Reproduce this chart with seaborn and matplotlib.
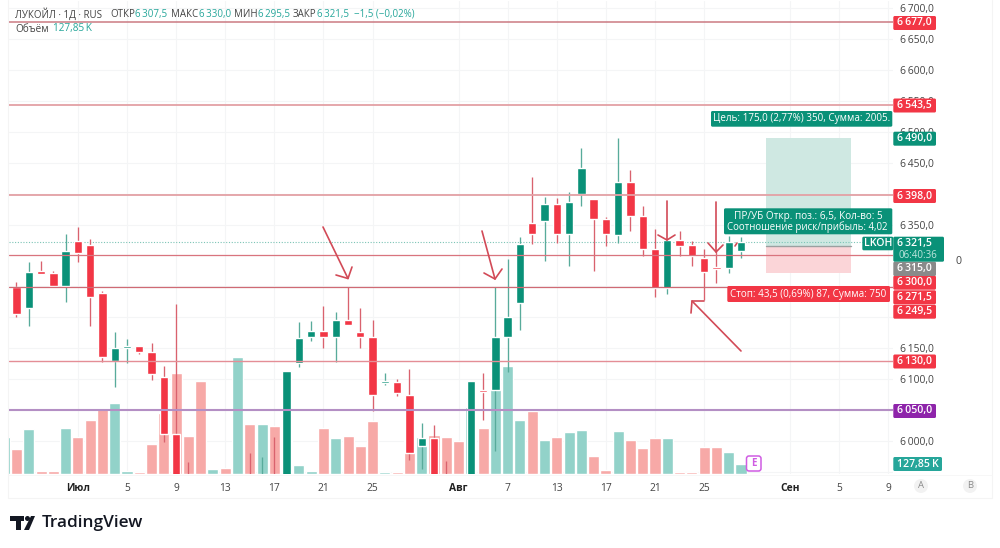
import matplotlib
matplotlib.use("Agg")
import matplotlib.pyplot as plt
import numpy as np
import pandas as pd
import seaborn as sns
from matplotlib.patches import Rectangle, Circle, Polygon, FancyBboxPatch
from matplotlib.lines import Line2D
from matplotlib.transforms import Affine2D

# ---------- data ----------
opens = [6249.5,6215,6274.5,6271,6251,6324,6316.5,6239,6129.5,6150.5,6154,6143.5,6104,6012,5940,
         5940,5930,5940,5930,5940,5930,5940,5930,6126.5,6168.5,6178,6168.5,6196,6175.5,6167.5,
         6094,6096,6075,5992,6005,5940,5930,5930,6082.5,6082.5,6167.5,6223,6353,6355,6383,
         6334.5,6400,6391,6358.5,6332.5,6418,6364,6310,6248,6325,6316.5,6296.5,6282,6279,6307.5]
highs = [6257,6289.5,6291.5,6275.5,6334.5,6346.5,6326,6242,6176.5,6164.5,6154,6158,6121.5,6221.5,5966.5,
         5944,5940,5944,5940,5980,5974.5,6007,6113.5,6193,6194,6218.5,6209,6248.5,6215,6195,
         6109.5,6100,6117,6029.5,6025.5,5968,5940,6097,6109.5,6248.5,6294,6330,6427.5,6395,6392.5,
         6402,6473,6391,6361.5,6489.5,6437.5,6380,6342,6325,6339.5,6323,6310,6308,6331.5,6330]
lows = [6200.5,6186,6270,6251,6225,6290,6186,6128,6088,6125.5,6140,6099,5999,5920,5925,
        5925,5920,5925,5920,5920,5920,5920,5920,6120,6161,6150.5,6127,6188,6150,6049,
        6090.5,6073,5969.5,5955,5920,5920,5915,5920,6034,5984.5,6112,6179.5,6318,6291,6319.5,
        6283,6380.5,6275,6315,6319.5,6340,6299,6233.5,6237,6299,6283,6228,6256,6271.5,6295.5]
closes = [6205,6273,6270.5,6251,6306.5,6304,6233,6136.5,6151,6154,6143.5,6109,6012,5930,5935,
          5930,5940,5930,5940,5930,5940,5930,6113.5,6167,6178,6168.5,6195,6188,6167.5,6074,
          6097.5,6077.5,5980,6005,5930,5930,5925,6097,6079,6168.5,6201,6318.5,6334.5,6383,6334.5,
          6386,6442,6358.5,6335,6418,6364,6310,6248,6325,6315,6299,6274,6278.5,6321,6321.5]
volume_k = [477,324,580,38,38,596,477,699,840,909,38,26,384,785,1300,486,1190,64,84,1505,
            648,640,622,781,115,46,589,461,494,358,682,33,26,759,481,503,477,426,865,589,
            1165,1386,695,810,435,477,545,571,238,59,554,435,333,461,468,26,33,349,349,282,127.85]
first_volume_dir = "up"  # the bar cut off by the left edge

levels_red = [6677, 6543.5, 6398, 6300, 6249.5, 6130]
level_purple = 6050
last_price = 6321.5
entry, target, stop = 6315, 6490, 6271.5

price_ticks = [6700,6650,6600,6550,6500,6450,6400,6350,6300,6250,6200,6150,6100,6050,6000,5950]
hidden_tick_labels = {6400, 6300, 6250, 6200, 6050, 5950}  # covered by the price labels in the picture
time_ticks = [5,9,13,17,21,25,29,36,40,44,48,52,56,63,67,71]
time_labels = ["Июл","5","9","13","17","21","25","Авг","7","13","17","21","25","Сен","5","9"]
bold_labels = {"Июл","Авг","Сен"}

RED, GREEN = "#f23645", "#0a9178"
RED_W, GREEN_W = "#d9626e", "#58ab9b"
RED_V, GREEN_V = "#f7a9a7", "#92d2c9"
LEVEL_STYLES = [("#cb7a82", 1.1), ("#e3a0a5", 1.3), ("#e3a0a5", 1.3), ("#d9747e", 0.9), ("#cf6a74", 0.9), ("#e48e96", 1.0)]
TEXT = "#444444"

# ---------- figure ----------
sns.set_theme(style="white")
plt.rcParams["font.family"] = ["Open Sans", "DejaVu Sans"]
fig = plt.figure(figsize=(10, 5.48), dpi=100, facecolor="white")
px = Affine2D().scale(1 / 1000, -1 / 548).translate(0, 1) + fig.transFigure

ax = fig.add_axes([0.0085, 1 - 474.3 / 548, 0.8845, 473.3 / 548])
ax_vol = ax.twinx()
ax.set_zorder(2)
ax_vol.set_zorder(1)
ax.patch.set_visible(False)

idx = np.arange(60)
o, h, l, c = map(np.array, (opens, highs, lows, closes))
up = c >= o

vol_df = pd.DataFrame({
    "day": np.arange(-1, 60),
    "vol": volume_k,
    "dir": [first_volume_dir] + ["up" if u else "down" for u in up],
})
sns.barplot(data=vol_df, x="day", y="vol", hue="dir", native_scale=True, dodge=False,
            palette={"up": GREEN_V, "down": RED_V}, hue_order=["up", "down"], width=0.9,
            saturation=1, legend=False, ax=ax_vol)
ax_vol.set_ylim(0, 473.3 * 12.8)
ax_vol.set_xlabel(""); ax_vol.set_ylabel("")
ax_vol.set_yticks([])
ax_vol.tick_params(labelbottom=False, bottom=False)

# position tool
ax.add_patch(Rectangle((61, entry), 7, target - entry, fc="#cfe8e2", ec="none", zorder=0.5))
ax.add_patch(Rectangle((61, stop), 7, entry - stop, fc="#fbd5d8", ec="none", zorder=0.5))
ax.plot([61, 68], [entry, entry], color="#9aa0a0", lw=1, zorder=0.7)

# candles
ax.vlines(idx, l, h, colors=[GREEN_W if u else RED_W for u in up], lw=0.95, zorder=2)
ax.bar(idx, np.abs(c - o), bottom=np.minimum(o, c), width=0.68,
       color=[GREEN if u else RED for u in up], zorder=3)

# levels
for v, (col, w) in zip(levels_red, LEVEL_STYLES):
    ax.axhline(v, color=col, lw=w, zorder=4)
ax.axhline(level_purple, color="#b48fc4", lw=1.5, zorder=4)
ax.axhline(last_price, color="#7cc4b6", lw=0.8, ls=(0, (1, 1.5)), zorder=1)

# axes
ax.set_xlim(-0.651, 71.38)
ax.set_ylim(5946.2, 6711.3)
ax.yaxis.tick_right()
ax.set_yticks(price_ticks)
ax.set_yticklabels(["" if t in hidden_tick_labels else f"{int(t / 1000)}\u2009{t % 1000:03d},0" for t in price_ticks],
                   color=TEXT, fontsize=7.4)
ax.set_xticks(time_ticks)
ax.set_xticklabels(time_labels, fontsize=7.4, color=TEXT)
for lab in ax.get_xticklabels():
    if lab.get_text() in bold_labels:
        lab.set_fontweight("bold")
        lab.set_color("#222222")
ax.tick_params(axis="both", length=0)
ax.tick_params(axis="y", pad=5)
ax.tick_params(axis="x", pad=6)
for a in (ax, ax_vol):
    for s in a.spines.values():
        s.set_visible(False)
ax.grid(False)
ax_vol.grid(False)
for t in price_ticks:
    ax_vol.axhline((t - 5946.2) / (6711.3 - 5946.2) * 473.3 * 12.8, color="#f4f5f6", lw=0.8, zorder=0)
for t in time_ticks:
    ax_vol.axvline(t, color="#f4f5f6", lw=0.8, zorder=0)
ax_vol.set_xlim(-0.651, 71.38)
ax.set_xlim(-0.651, 71.38)

# pane outline
fig.add_artist(Line2D([8.3, 8.3, 991.7, 991.7], [0, 497.7, 497.7, 0], transform=px,
                      color="#f4f4f4", lw=0.8, zorder=0))
fig.add_artist(Line2D([8.3, 991.7], [474.8, 474.8], transform=px, color="#f6f6f6", lw=0.6, zorder=0))


def box(x0, y0, x1, y1, fc, radius=1.5, z=5, ec="none", lw=0):
    fig.add_artist(FancyBboxPatch((x0, y0), x1 - x0, y1 - y0, boxstyle=f"round,pad=0,rounding_size={radius}",
                                  transform=px, fc=fc, ec=ec, lw=lw, zorder=z))


def txt(x, y, s, color="white", size=7.6, ha="center", weight="normal", z=6):
    fig.text(x, y, s, transform=px, color=color, fontsize=size, ha=ha, va="center", weight=weight, zorder=z)


def poly(xs, ys, color="#d24a57", lw=1.2, z=4.5):
    fig.add_artist(Line2D(xs, ys, transform=px, color=color, lw=lw, zorder=z, solid_capstyle="round"))


# hand drawn arrows
poly([323, 348], [227, 278.5])
poly([336, 348, 352], [275, 278.5, 267])
poly([482, 495], [231, 279])
poly([484, 495, 502], [273, 279, 269])
poly([667, 667], [201, 240])
poly([658, 667, 675], [235, 240, 235])
poly([716, 716], [202, 252])
poly([708, 716, 723], [243, 252, 245])
poly([741, 692], [351, 301])
poly([704, 692, 691], [301, 301, 313])
poly([735, 737], [246, 243])

# price labels
G = "#0a9178"
R = "#f23645"
for label, y, col in [("6\u2009677,0", 23, R), ("6\u2009543,5", 105.5, R), ("6\u2009490,0", 138.7, G),
                      ("6\u2009398,0", 196, R), ("6\u2009300,0", 282.7, R), ("6\u2009271,5", 297.3, R),
                      ("6\u2009249,5", 311.7, R), ("6\u2009130,0", 361.5, R), ("6\u2009050,0", 411, "#8e24aa")]:
    box(893.3, y - 7, 936, y + 7, col)
    txt(914.6, y, label, weight="semibold")
box(893.3, 261.7, 936, 276, "#8a8a8a")
txt(914.6, 269, "6\u2009315,0", weight="semibold")
box(893.3, 236.7, 944, 261.7, G)
txt(914.6, 243.5, "6\u2009321,5", weight="semibold")
txt(918, 255, "06:40:36", color="#bfe6de", size=7.0)
box(862.3, 236.7, 893.3, 250.3, G, z=5.1)
txt(878, 243.5, "LKOH", weight="semibold")
box(893.3, 457, 942, 471, "#26a69a")
txt(917.6, 464, "127,85\u2009K", weight="semibold")

# position tool labels
box(711, 111, 892.3, 126.7, G)
txt(801.7, 119, "Цель: 175,0 (2,77%) 350, Сумма: 2005.", size=7.1)
box(724, 208.3, 892.3, 234.3, G)
txt(808, 216, "ПР/УБ Откр. поз.: 6,5, Кол-во: 5", size=7.2)
txt(807, 227, "Соотношение риск/прибыль: 4,02", size=6.9)
box(727.3, 286, 890, 302, R)
txt(808.6, 294, "Стоп: 43,5 (0,69%) 87, Сумма: 750", size=7.1)

# header
t1 = [(15, "ЛУКОЙЛ · 1Д · RUS", TEXT), (110, "ОТКР", TEXT), (135, "6\u2009307,5", "#26a69a"),
      (171, "МАКС", TEXT), (199, "6\u2009330,0", "#26a69a"), (234, "МИН", TEXT), (258, "6\u2009295,5", "#26a69a"),
      (293, "ЗАКР", TEXT), (317, "6\u2009321,5", "#26a69a"), (354, "−1,5 (−0,02%)", "#26a69a")]
for x, s, col in t1:
    txt(x, 14.5, s, color=col, ha="left", size=7.0)
txt(15, 29, "Объём", color=TEXT, ha="left", size=7.2)
txt(53, 29, "127,85\u2009K", color="#26a69a", ha="left", size=7.2)

# misc
txt(958, 261, "0", color=TEXT)
for x, s in [(921, "A"), (970, "B")]:
    fig.add_artist(Circle((x, 486), 7, transform=px, fc="#f2f2f2", ec="none", zorder=5))
    txt(x, 486, s, color="#8a8a8a", size=6.8)
box(746.5, 456, 761, 471, "white", radius=2.5, ec="#d05ce3", lw=1.1)
txt(753.8, 463.5, "E", color="#d05ce3", size=7, weight="bold")

# logo
LOGO = "#131722"
fig.add_artist(Polygon([(10, 516), (24, 516), (24, 521), (21, 521), (21, 530), (16, 530), (16, 521), (10, 521)],
                       transform=px, fc=LOGO, ec="none", zorder=5))
fig.add_artist(Circle((27.5, 518.5), 2.5, transform=px, fc=LOGO, ec="none", zorder=5))
fig.add_artist(Polygon([(24, 530), (29, 530), (35, 516), (31, 516)], transform=px, fc=LOGO, ec="none", zorder=5))
txt(42, 523, "TradingView", color=LOGO, ha="left", size=12.4, weight="semibold")

fig.savefig("out.png", dpi=100)
